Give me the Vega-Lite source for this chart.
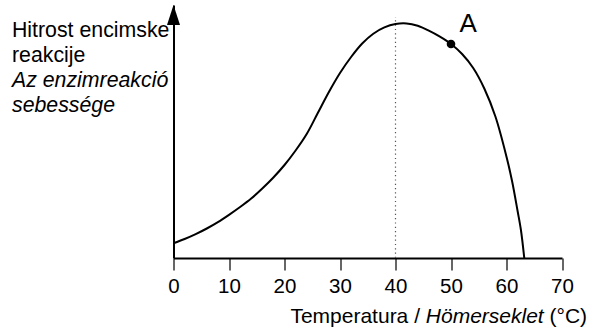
{
  "$schema": "https://vega.github.io/schema/vega-lite/v6.json",
  "width": 388.5,
  "height": 253,
  "autosize": {"type": "none"},
  "padding": {"left": 173.5, "top": 5, "right": 27, "bottom": 72},
  "background": "white",
  "config": {
    "view": {"stroke": null},
    "font": "Liberation Sans",
    "axis": {"grid": false}
  },
  "datasets": {
    "curve": [
      {"temp": 0, "rate": 14.7},
      {"temp": 2, "rate": 19.0},
      {"temp": 4, "rate": 23.9},
      {"temp": 6, "rate": 29.5},
      {"temp": 8, "rate": 35.9},
      {"temp": 10, "rate": 43.2},
      {"temp": 12, "rate": 51.0},
      {"temp": 14, "rate": 59.5},
      {"temp": 16, "rate": 69.5},
      {"temp": 18, "rate": 80.5},
      {"temp": 20, "rate": 93},
      {"temp": 22, "rate": 107.5},
      {"temp": 24, "rate": 124},
      {"temp": 26, "rate": 145},
      {"temp": 28, "rate": 166},
      {"temp": 30, "rate": 185},
      {"temp": 32, "rate": 201},
      {"temp": 34, "rate": 214.5},
      {"temp": 36, "rate": 224.3},
      {"temp": 38, "rate": 230.6},
      {"temp": 40, "rate": 234},
      {"temp": 42, "rate": 234.6},
      {"temp": 44, "rate": 232.2},
      {"temp": 46, "rate": 227.3},
      {"temp": 48, "rate": 221.3},
      {"temp": 50, "rate": 214},
      {"temp": 52, "rate": 204},
      {"temp": 54, "rate": 190},
      {"temp": 56, "rate": 169.5},
      {"temp": 58, "rate": 141.5},
      {"temp": 60, "rate": 101.3},
      {"temp": 61, "rate": 77},
      {"temp": 62, "rate": 47},
      {"temp": 62.6, "rate": 28},
      {"temp": 63.2, "rate": 0}
    ],
    "pointA": [{"temp": 50, "rate": 214}],
    "labelA": [{"temp": 53.1, "rate": 226, "text": "A"}],
    "optimum": [{"temp": 40, "rate": 0, "rate2": 241}],
    "arrow": [{"temp": 0, "rate": 243}],
    "ylabel": [
      {"temp": -29.1, "rate": 221, "text": "Hitrost encimske", "lang": "sl"},
      {"temp": -29.1, "rate": 196, "text": "reakcije", "lang": "sl"},
      {"temp": -29.1, "rate": 171, "text": "Az enzimreakció", "lang": "hu"},
      {"temp": -29.1, "rate": 146, "text": "sebessége", "lang": "hu"}
    ],
    "xlabel": [
      {"temp": 44.41, "rate": -65, "text": "Temperatura /", "part": "sl"},
      {"temp": 45.46, "rate": -65, "text": "Hömerseklet", "part": "hu"},
      {"temp": 67.75, "rate": -65, "text": "(°C)", "part": "unit"}
    ]
  },
  "encoding": {
    "x": {
      "field": "temp",
      "type": "quantitative",
      "scale": {"domain": [0, 70], "nice": false, "zero": false},
      "axis": {
        "values": [0, 10, 20, 30, 40, 50, 60, 70],
        "title": null,
        "domainColor": "black",
        "domainWidth": 2,
        "tickColor": "#333333",
        "tickWidth": 1.5,
        "tickSize": 12,
        "labelFontSize": 20.5,
        "labelColor": "black",
        "labelPadding": 6,
        "labelFlush": false
      }
    },
    "y": {
      "field": "rate",
      "type": "quantitative",
      "scale": {"domain": [0, 253], "nice": false, "zero": false},
      "axis": {
        "title": null,
        "labels": false,
        "ticks": false,
        "domainColor": "black",
        "domainWidth": 2
      }
    }
  },
  "layer": [
    {
      "data": {"name": "optimum"},
      "mark": {"type": "rule", "color": "#555555", "strokeWidth": 1.2, "strokeDash": [1.2, 3.1]},
      "encoding": {"y2": {"field": "rate2"}}
    },
    {
      "data": {"name": "curve"},
      "mark": {"type": "line", "color": "black", "strokeWidth": 2, "interpolate": "catmull-rom", "clip": false}
    },
    {
      "data": {"name": "pointA"},
      "mark": {"type": "point", "filled": true, "color": "black", "opacity": 1, "size": 75, "shape": "circle"}
    },
    {
      "data": {"name": "labelA"},
      "mark": {"type": "text", "fontSize": 26, "align": "center", "baseline": "alphabetic", "color": "black"},
      "encoding": {"text": {"field": "text"}}
    },
    {
      "data": {"name": "arrow"},
      "mark": {"type": "point", "filled": true, "color": "black", "opacity": 1, "size": 400, "shape": "M0,-1L0.65,1L-0.65,1Z", "clip": false}
    },
    {
      "data": {"name": "ylabel"},
      "transform": [{"filter": "datum.lang === 'sl'"}],
      "mark": {"type": "text", "fontSize": 21.3, "align": "left", "baseline": "alphabetic", "color": "black", "clip": false},
      "encoding": {"text": {"field": "text"}}
    },
    {
      "data": {"name": "ylabel"},
      "transform": [{"filter": "datum.lang === 'hu'"}],
      "mark": {"type": "text", "fontSize": 21.3, "fontStyle": "italic", "align": "left", "baseline": "alphabetic", "color": "black", "clip": false},
      "encoding": {"text": {"field": "text"}}
    },
    {
      "data": {"name": "xlabel"},
      "transform": [{"filter": "datum.part === 'sl'"}],
      "mark": {"type": "text", "fontSize": 21, "align": "right", "baseline": "alphabetic", "color": "black", "clip": false},
      "encoding": {"text": {"field": "text"}}
    },
    {
      "data": {"name": "xlabel"},
      "transform": [{"filter": "datum.part === 'hu'"}],
      "mark": {"type": "text", "fontSize": 21, "fontStyle": "italic", "align": "left", "baseline": "alphabetic", "color": "black", "clip": false},
      "encoding": {"text": {"field": "text"}}
    },
    {
      "data": {"name": "xlabel"},
      "transform": [{"filter": "datum.part === 'unit'"}],
      "mark": {"type": "text", "fontSize": 21, "align": "left", "baseline": "alphabetic", "color": "black", "clip": false},
      "encoding": {"text": {"field": "text"}}
    }
  ]
}
